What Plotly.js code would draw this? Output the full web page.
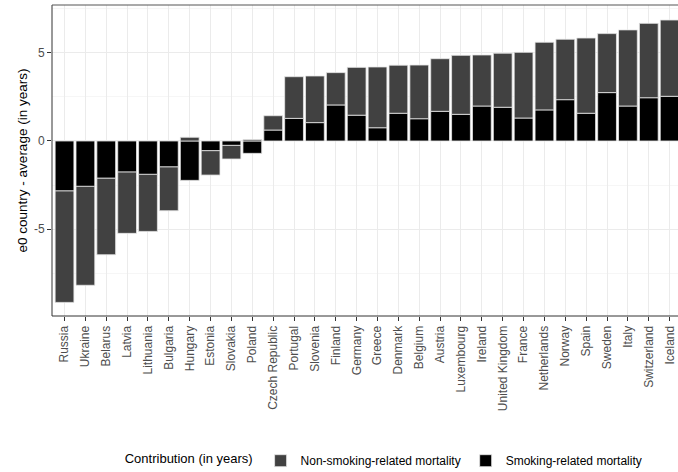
<!DOCTYPE html>
<html><head><meta charset="utf-8">
<script src="https://cdn.plot.ly/plotly-3.0.1.min.js"></script>
<style>html,body{margin:0;padding:0;background:#fff}#chart{width:678px;height:472px}</style>
</head><body><div id="chart"></div>
<script>
const countries = ["Russia","Ukraine","Belarus","Latvia","Lithuania","Bulgaria","Hungary","Estonia","Slovakia","Poland","Czech Republic","Portugal","Slovenia","Finland","Germany","Greece","Denmark","Belgium","Austria","Luxembourg","Ireland","United Kingdom","France","Netherlands","Norway","Spain","Sweden","Italy","Switzerland","Iceland"];
const smoking = [-2.83,-2.57,-2.11,-1.76,-1.89,-1.47,-2.23,-0.55,-0.25,-0.70,0.62,1.28,1.04,2.04,1.46,0.75,1.57,1.26,1.68,1.51,1.98,1.91,1.30,1.76,2.34,1.57,2.74,1.98,2.45,2.53];
const nonSmoking = [-6.31,-5.60,-4.33,-3.47,-3.23,-2.48,0.21,-1.38,-0.77,0.08,0.81,2.36,2.64,1.83,2.71,3.44,2.72,3.04,2.98,3.34,2.89,3.06,3.72,3.83,3.42,4.26,3.34,4.31,4.21,4.32];
const yTicks = [-5,0,5];

const font = "Liberation Sans, Arial, Helvetica, sans-serif";
const traces = [
  {type:"bar", name:"Smoking-related mortality", x:countries, y:smoking,
   marker:{color:"#000000", line:{color:"#e6e6e6", width:0.8}}, width:0.9},
  {type:"bar", name:"Non-smoking-related mortality", x:countries, y:nonSmoking,
   marker:{color:"#414141", line:{color:"#e6e6e6", width:0.8}}, width:0.9}
];
const layout = {
  width:678, height:472,
  margin:{l:52, r:0, t:5, b:156},
  barmode:"relative",
  paper_bgcolor:"#fff", plot_bgcolor:"#fff",
  font:{family:font, color:"#000"},
  showlegend:true,
  legend:{orientation:"h", x:0.181, xref:"container", xanchor:"left", y:0.024, yref:"container", yanchor:"middle",
          traceorder:"reversed", font:{size:12, color:"#000"}, itemwidth:30,
          title:{text:"Contribution (in years)", side:"left", font:{size:13, color:"#000"}}},
  xaxis:{type:"category", range:[-0.6, 29.4], tickangle:-90, automargin:false,
         tickfont:{size:12, color:"#4d4d4d"}, ticks:"outside", ticklen:4, tickcolor:"#333",
         showgrid:true, gridcolor:"#ebebeb", gridwidth:1, zeroline:false, showline:false},
  yaxis:{range:[-9.91, 7.70], tickvals:yTicks, ticktext:yTicks.map(String), automargin:true,
         tickfont:{size:12, color:"#4d4d4d"}, ticks:"outside", ticklen:4, tickcolor:"#333",
         showgrid:true, gridcolor:"#ebebeb", gridwidth:1, zeroline:false, showline:false,
         minor:{dtick:2.5, tick0:0, showgrid:true, gridcolor:"#f4f4f4", gridwidth:0.8},
         title:{text:"e0 country - average (in years)", font:{size:13.5, color:"#000"}, standoff:3}},
  shapes:[
    {type:"line", xref:"paper", yref:"paper", x0:0, x1:0, y0:0, y1:1, line:{color:"#333", width:1}, layer:"above"},
    {type:"line", xref:"paper", yref:"paper", x0:0, x1:1, y0:0, y1:0, line:{color:"#333", width:1}, layer:"above"},
    {type:"line", xref:"paper", yref:"paper", x0:0, x1:1, y0:1, y1:1, line:{color:"#555", width:1}, layer:"above"}
  ]
};
Plotly.newPlot("chart", traces, layout, {displayModeBar:false, staticPlot:true});
</script></body></html>
